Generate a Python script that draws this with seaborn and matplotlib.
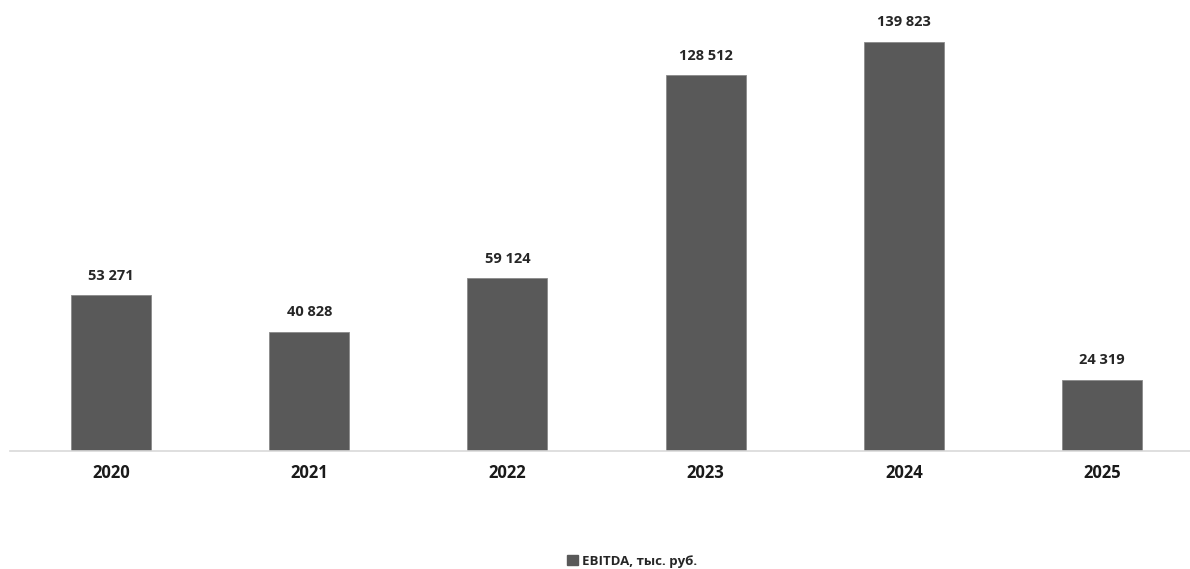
import matplotlib
matplotlib.use("Agg")
import matplotlib.pyplot as plt
import seaborn as sns
import pandas as pd
from matplotlib.patches import Patch

years = ["2020", "2021", "2022", "2023", "2024", "2025"]
ebitda = [53271, 40828, 59124, 128512, 139823, 24319]
series_name = "EBITDA, тыс. руб."

df = pd.DataFrame({"year": years, "value": ebitda})

sns.set_theme(style="white")
plt.rcParams['font.family'] = ['Open Sans', 'DejaVu Sans']

fig = plt.figure(figsize=(11.9, 5.69), dpi=100)
ax = fig.add_axes([10/1190, 1 - 451/569, 1180/1190, 451/569])

bar_color = "#595959"
sns.barplot(data=df, x="year", y="value", color=bar_color, width=0.404,
            saturation=1, ax=ax, edgecolor="#8a8a8a", linewidth=0.6)

ax.set_xlim(-0.5096, 5.444)
ax.set_ylim(0, 154180)

labels = [f"{v:,}".replace(",", " ") for v in ebitda]
ax.bar_label(ax.containers[0], labels=labels, padding=9, fontsize=10.5,
             fontweight="bold", color="#262626")

for s in ["top", "right", "left"]:
    ax.spines[s].set_visible(False)
ax.spines["bottom"].set_color("#d9d9d9")
ax.spines["bottom"].set_linewidth(1.2)
ax.set_yticks([])
ax.set_xlabel("")
ax.set_ylabel("")
ax.tick_params(axis="x", length=0, pad=9, labelsize=12, colors="#1a1a1a")
for t in ax.get_xticklabels():
    t.set_fontweight("bold")

handle = Patch(facecolor=bar_color, edgecolor=bar_color)
fig.legend([handle], [series_name], loc="center", bbox_to_anchor=(0.531, 1 - 561/569),
           frameon=False, handlelength=0.8, handleheight=0.8,
           handletextpad=0.3, prop={"weight": "bold", "size": 9.5})

fig.savefig("out.png", dpi=100)
